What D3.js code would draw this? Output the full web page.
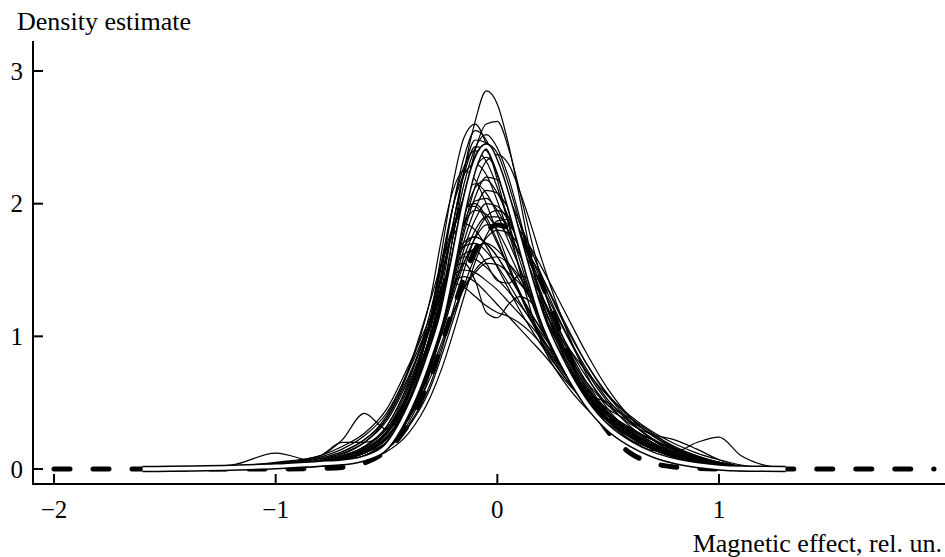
<!DOCTYPE html>
<html>
<head>
<meta charset="utf-8">
<script src="https://cdn.jsdelivr.net/npm/d3@7"></script>
<style>
  html, body { margin: 0; padding: 0; background: #fff; }
</style>
</head>
<body>
<div class="chart"></div>
<script>
// x positions where the thin curves and the white curve are sampled
const xGrid = [-1.6, -1.2, -1.0, -0.8, -0.7, -0.6, -0.5, -0.4, -0.3, -0.25, -0.2, -0.15, -0.1, -0.05,
  0, 0.05, 0.1, 0.15, 0.2, 0.3, 0.4, 0.5, 0.6, 0.7, 0.8, 0.9, 1.0, 1.1, 1.3]

// individual density estimates (thin lines)
const thinCurves = [
  [0, 0.005, 0.01, 0.02, 0.04, 0.08, 0.17, 0.4, 0.85, 1.25, 1.75, 2.25, 2.62, 2.85, 2.75, 2.45, 2.05, 1.62, 1.25, 0.78, 0.5, 0.32, 0.2, 0.12, 0.07, 0.035, 0.015, 0.005, 0],
  [0, 0.01, 0.02, 0.04, 0.07, 0.13, 0.26, 0.55, 1.15, 1.65, 2.15, 2.5, 2.6, 2.45, 2.18, 1.85, 1.5, 1.2, 0.95, 0.66, 0.46, 0.32, 0.22, 0.15, 0.09, 0.05, 0.025, 0.01, 0],
  [0, 0.005, 0.01, 0.03, 0.05, 0.08, 0.16, 0.35, 0.75, 1.1, 1.55, 2.02, 2.4, 2.6, 2.62, 2.42, 2.1, 1.75, 1.42, 0.92, 0.58, 0.37, 0.24, 0.15, 0.09, 0.05, 0.02, 0.005, 0],
  [0, 0.01, 0.015, 0.035, 0.06, 0.1, 0.2, 0.45, 0.92, 1.3, 1.75, 2.15, 2.42, 2.52, 2.42, 2.2, 1.9, 1.58, 1.28, 0.88, 0.6, 0.42, 0.3, 0.2, 0.12, 0.07, 0.035, 0.012, 0],
  [0, 0.01, 0.02, 0.045, 0.07, 0.12, 0.23, 0.5, 1.0, 1.42, 1.85, 2.22, 2.43, 2.4, 2.22, 1.96, 1.68, 1.4, 1.15, 0.78, 0.53, 0.36, 0.24, 0.15, 0.09, 0.05, 0.025, 0.008, 0],
  [0, 0.005, 0.01, 0.03, 0.05, 0.09, 0.18, 0.38, 0.78, 1.08, 1.45, 1.82, 2.13, 2.32, 2.37, 2.3, 2.1, 1.85, 1.58, 1.1, 0.72, 0.45, 0.28, 0.17, 0.1, 0.06, 0.03, 0.01, 0],
  [0, 0.01, 0.02, 0.05, 0.09, 0.15, 0.28, 0.6, 1.15, 1.58, 1.98, 2.22, 2.3, 2.22, 2.02, 1.78, 1.52, 1.28, 1.06, 0.74, 0.52, 0.36, 0.25, 0.16, 0.1, 0.06, 0.03, 0.01, 0],
  [0, 0.01, 0.02, 0.045, 0.08, 0.13, 0.24, 0.48, 0.92, 1.22, 1.58, 1.9, 2.12, 2.18, 2.08, 1.9, 1.68, 1.45, 1.22, 0.85, 0.57, 0.37, 0.24, 0.15, 0.09, 0.05, 0.025, 0.008, 0],
  [0, 0.01, 0.015, 0.035, 0.06, 0.1, 0.2, 0.42, 0.8, 1.08, 1.4, 1.72, 1.96, 2.1, 2.08, 1.96, 1.78, 1.58, 1.38, 0.98, 0.66, 0.43, 0.27, 0.17, 0.1, 0.06, 0.03, 0.01, 0],
  [0, 0.01, 0.02, 0.055, 0.1, 0.17, 0.32, 0.66, 1.2, 1.55, 1.83, 1.98, 1.98, 1.87, 1.7, 1.52, 1.34, 1.16, 1.0, 0.74, 0.54, 0.4, 0.3, 0.22, 0.14, 0.08, 0.04, 0.015, 0],
  [0, 0.01, 0.02, 0.045, 0.08, 0.14, 0.27, 0.55, 1.02, 1.32, 1.62, 1.85, 1.95, 1.92, 1.8, 1.64, 1.46, 1.28, 1.1, 0.8, 0.56, 0.38, 0.25, 0.16, 0.1, 0.06, 0.03, 0.01, 0],
  [0, 0.005, 0.015, 0.035, 0.06, 0.1, 0.2, 0.42, 0.8, 1.05, 1.33, 1.6, 1.8, 1.9, 1.9, 1.84, 1.74, 1.6, 1.45, 1.12, 0.8, 0.55, 0.36, 0.22, 0.13, 0.08, 0.04, 0.015, 0],
  [0, 0.02, 0.035, 0.08, 0.13, 0.22, 0.4, 0.76, 1.28, 1.56, 1.76, 1.85, 1.8, 1.68, 1.52, 1.36, 1.2, 1.06, 0.93, 0.7, 0.5, 0.38, 0.3, 0.22, 0.15, 0.09, 0.05, 0.02, 0],
  [0, 0.005, 0.01, 0.025, 0.045, 0.08, 0.15, 0.32, 0.62, 0.86, 1.12, 1.38, 1.6, 1.74, 1.8, 1.78, 1.68, 1.54, 1.38, 1.05, 0.74, 0.5, 0.32, 0.2, 0.12, 0.07, 0.035, 0.012, 0],
  [0, 0.015, 0.03, 0.06, 0.1, 0.17, 0.32, 0.64, 1.1, 1.36, 1.58, 1.71, 1.75, 1.7, 1.6, 1.47, 1.33, 1.18, 1.04, 0.78, 0.56, 0.38, 0.25, 0.16, 0.1, 0.06, 0.03, 0.01, 0],
  [0, 0.01, 0.02, 0.05, 0.09, 0.16, 0.3, 0.58, 1.02, 1.28, 1.5, 1.62, 1.65, 1.55, 1.42, 1.4, 1.46, 1.42, 1.3, 0.95, 0.64, 0.42, 0.27, 0.17, 0.1, 0.06, 0.03, 0.01, 0],
  [0, 0.02, 0.035, 0.08, 0.13, 0.22, 0.38, 0.7, 1.12, 1.36, 1.52, 1.6, 1.58, 1.52, 1.43, 1.34, 1.24, 1.13, 1.02, 0.78, 0.57, 0.4, 0.27, 0.17, 0.1, 0.06, 0.03, 0.01, 0],
  [0, 0.015, 0.03, 0.07, 0.12, 0.2, 0.36, 0.68, 1.12, 1.38, 1.52, 1.55, 1.42, 1.18, 1.14, 1.24, 1.3, 1.26, 1.15, 0.88, 0.62, 0.42, 0.27, 0.17, 0.1, 0.06, 0.03, 0.01, 0],
  [0, 0.02, 0.045, 0.1, 0.17, 0.27, 0.45, 0.78, 1.15, 1.33, 1.46, 1.5, 1.48, 1.42, 1.35, 1.26, 1.17, 1.08, 0.98, 0.78, 0.58, 0.42, 0.29, 0.19, 0.12, 0.07, 0.035, 0.01, 0],
  [0, 0.02, 0.05, 0.1, 0.22, 0.42, 0.3, 0.52, 0.98, 1.22, 1.4, 1.45, 1.41, 1.33, 1.24, 1.15, 1.06, 0.97, 0.88, 0.68, 0.5, 0.36, 0.24, 0.15, 0.09, 0.05, 0.025, 0.008, 0],
  [0, 0.02, 0.04, 0.09, 0.15, 0.25, 0.42, 0.74, 1.12, 1.3, 1.4, 1.37, 1.3, 1.23, 1.18, 1.15, 1.1, 1.03, 0.94, 0.74, 0.56, 0.42, 0.31, 0.22, 0.15, 0.09, 0.05, 0.015, 0],
  [0, 0.005, 0.01, 0.025, 0.05, 0.09, 0.18, 0.38, 0.76, 1.04, 1.36, 1.66, 1.88, 2.0, 1.98, 1.87, 1.7, 1.5, 1.3, 0.9, 0.58, 0.36, 0.22, 0.14, 0.13, 0.2, 0.24, 0.1, 0],
  [0, 0.03, 0.12, 0.05, 0.07, 0.12, 0.23, 0.46, 0.85, 1.1, 1.36, 1.56, 1.67, 1.7, 1.65, 1.55, 1.42, 1.28, 1.13, 0.84, 0.58, 0.38, 0.24, 0.15, 0.09, 0.05, 0.025, 0.008, 0],
  [0, 0.015, 0.03, 0.065, 0.11, 0.2, 0.38, 0.74, 1.3, 1.75, 2.1, 2.25, 2.18, 2.0, 1.78, 1.55, 1.33, 1.13, 0.96, 0.7, 0.5, 0.36, 0.26, 0.18, 0.11, 0.06, 0.03, 0.01, 0],
  [0, 0.005, 0.01, 0.02, 0.04, 0.07, 0.13, 0.27, 0.55, 0.76, 1.02, 1.3, 1.56, 1.76, 1.87, 1.88, 1.8, 1.67, 1.52, 1.2, 0.88, 0.6, 0.39, 0.25, 0.15, 0.09, 0.05, 0.015, 0],
  [0, 0.01, 0.02, 0.045, 0.08, 0.14, 0.27, 0.57, 1.12, 1.55, 1.98, 2.28, 2.4, 2.32, 2.12, 1.86, 1.58, 1.32, 1.08, 0.75, 0.5, 0.34, 0.24, 0.16, 0.1, 0.05, 0.025, 0.008, 0],
  [0, 0.01, 0.02, 0.045, 0.07, 0.12, 0.2, 0.38, 0.7, 0.93, 1.16, 1.37, 1.5, 1.58, 1.6, 1.55, 1.45, 1.32, 1.18, 0.9, 0.66, 0.48, 0.38, 0.27, 0.16, 0.09, 0.05, 0.02, 0],
  [0, 0.01, 0.02, 0.04, 0.07, 0.12, 0.24, 0.52, 1.05, 1.5, 1.98, 2.35, 2.55, 2.48, 2.25, 1.95, 1.64, 1.36, 1.12, 0.78, 0.54, 0.38, 0.27, 0.18, 0.11, 0.06, 0.03, 0.01, 0],
  [0, 0.01, 0.015, 0.035, 0.06, 0.1, 0.19, 0.42, 0.85, 1.18, 1.58, 1.98, 2.26, 2.35, 2.25, 2.05, 1.8, 1.55, 1.32, 0.92, 0.62, 0.4, 0.26, 0.16, 0.1, 0.06, 0.03, 0.01, 0],
  [0, 0.015, 0.025, 0.055, 0.09, 0.15, 0.28, 0.58, 1.1, 1.45, 1.8, 2.05, 2.15, 2.08, 1.92, 1.72, 1.52, 1.32, 1.14, 0.82, 0.57, 0.38, 0.25, 0.16, 0.1, 0.06, 0.03, 0.01, 0],
  [0, 0.01, 0.015, 0.035, 0.06, 0.1, 0.2, 0.4, 0.78, 1.02, 1.3, 1.55, 1.74, 1.84, 1.84, 1.76, 1.62, 1.46, 1.3, 0.98, 0.7, 0.48, 0.34, 0.26, 0.22, 0.15, 0.07, 0.02, 0],
  [0, 0.01, 0.02, 0.045, 0.075, 0.13, 0.24, 0.5, 0.95, 1.26, 1.58, 1.86, 2.02, 2.04, 1.95, 1.8, 1.62, 1.43, 1.25, 0.9, 0.62, 0.42, 0.28, 0.18, 0.11, 0.06, 0.03, 0.01, 0],
  [0, 0.02, 0.04, 0.1, 0.2, 0.2, 0.3, 0.62, 1.08, 1.36, 1.58, 1.68, 1.7, 1.64, 1.53, 1.4, 1.26, 1.12, 0.99, 0.74, 0.53, 0.37, 0.25, 0.16, 0.1, 0.06, 0.03, 0.01, 0],
  [0, 0.005, 0.01, 0.03, 0.05, 0.09, 0.18, 0.4, 0.85, 1.22, 1.66, 2.07, 2.36, 2.45, 2.38, 2.15, 1.86, 1.56, 1.28, 0.86, 0.58, 0.4, 0.28, 0.19, 0.12, 0.07, 0.035, 0.012, 0],
  [0, 0.005, 0.01, 0.025, 0.045, 0.08, 0.15, 0.33, 0.65, 0.9, 1.2, 1.5, 1.75, 1.9, 1.95, 1.9, 1.78, 1.6, 1.42, 1.06, 0.76, 0.52, 0.35, 0.23, 0.14, 0.08, 0.04, 0.015, 0],
  [0, 0.005, 0.01, 0.03, 0.05, 0.09, 0.18, 0.38, 0.78, 1.06, 1.42, 1.78, 2.05, 2.2, 2.18, 2.05, 1.86, 1.66, 1.46, 1.1, 0.8, 0.56, 0.38, 0.25, 0.16, 0.1, 0.05, 0.015, 0],
  [0, 0.01, 0.02, 0.05, 0.09, 0.15, 0.28, 0.56, 1.0, 1.28, 1.52, 1.68, 1.75, 1.7, 1.6, 1.46, 1.32, 1.18, 1.05, 0.8, 0.6, 0.45, 0.36, 0.26, 0.17, 0.1, 0.05, 0.015, 0],
  [0, 0.01, 0.015, 0.035, 0.06, 0.1, 0.2, 0.46, 0.95, 1.36, 1.84, 2.25, 2.48, 2.46, 2.28, 2.0, 1.72, 1.45, 1.2, 0.82, 0.55, 0.37, 0.25, 0.16, 0.1, 0.06, 0.03, 0.01, 0],
  [0, 0.01, 0.02, 0.045, 0.075, 0.12, 0.22, 0.42, 0.74, 0.96, 1.18, 1.36, 1.48, 1.55, 1.54, 1.48, 1.4, 1.3, 1.2, 0.96, 0.74, 0.55, 0.4, 0.28, 0.19, 0.12, 0.07, 0.03, 0],
  [0, 0.01, 0.02, 0.05, 0.09, 0.15, 0.28, 0.58, 1.12, 1.48, 1.8, 1.97, 2.0, 1.9, 1.72, 1.52, 1.32, 1.14, 0.98, 0.72, 0.56, 0.5, 0.36, 0.22, 0.12, 0.07, 0.035, 0.01, 0]
]

// thick white curve
const whiteCurve = [0, 0.01, 0.02, 0.04, 0.05, 0.08, 0.17, 0.45, 0.88, 1.15, 1.55, 1.98, 2.3, 2.43, 2.28, 2.02, 1.72, 1.42, 1.15, 0.78, 0.5, 0.31, 0.19, 0.11, 0.06, 0.03, 0.012, 0.004, 0]

// thick dashed curve
const dashX = [-2, -1.0, -0.8, -0.7, -0.6, -0.5, -0.4, -0.3, -0.2, -0.1, 0, 0.1, 0.2, 0.3, 0.4, 0.5, 0.6, 0.7, 0.8, 0.9, 1.05, 1.97]
const dashY = [0, 0, 0.004, 0.012, 0.045, 0.14, 0.34, 0.7, 1.2, 1.65, 1.84, 1.75, 1.4, 0.96, 0.56, 0.28, 0.12, 0.045, 0.015, 0.004, 0, 0]

const xTicks = [-2, -1, 0, 1]
const yTicks = [0, 1, 2, 3]

const width = 945
const height = 557
const fontFamily = '"Liberation Serif", "Times New Roman", Times, "DejaVu Serif", serif'

const svg = d3.select('.chart')
  .append('svg')
  .attr('width', width)
  .attr('height', height)
  .style('font-family', fontFamily)

const x = d3.scaleLinear().domain([-2, 1]).range([54, 719])
const y = d3.scaleLinear().domain([0, 3]).range([469, 71])

const axisX = 33   // where the y axis sits
const axisY = 484  // where the x axis sits

const line = d3.line()
  .curve(d3.curveMonotoneX)
  .x(d => x(d[0]))
  .y(d => y(d[1]))

// thin lines
svg.append('g')
  .selectAll('path')
  .data(thinCurves)
  .enter()
  .append('path')
  .attr('d', d => line(d.map((v, i) => [xGrid[i], v])))
  .attr('fill', 'none')
  .attr('stroke', '#000')
  .attr('stroke-width', 1.2)

// dashed curve
svg.append('path')
  .attr('d', line(dashX.map((v, i) => [v, dashY[i]])))
  .attr('fill', 'none')
  .attr('stroke', '#000')
  .attr('stroke-width', 5)
  .attr('stroke-linecap', 'round')
  .attr('stroke-dasharray', '16,23')

// white curve with black edges
const whitePts = whiteCurve.map((v, i) => [xGrid[i], v])
svg.append('path')
  .attr('d', line(whitePts))
  .attr('fill', 'none')
  .attr('stroke', '#000')
  .attr('stroke-width', 6.5)
svg.append('path')
  .attr('d', line(whitePts))
  .attr('fill', 'none')
  .attr('stroke', '#fff')
  .attr('stroke-width', 3.5)

// axes lines
svg.append('line')
  .attr('x1', axisX).attr('x2', axisX)
  .attr('y1', 41).attr('y2', axisY + 1)
  .attr('stroke', '#000').attr('stroke-width', 2)
svg.append('line')
  .attr('x1', axisX - 1).attr('x2', width)
  .attr('y1', axisY).attr('y2', axisY)
  .attr('stroke', '#000').attr('stroke-width', 2)

const fmt = d => (d < 0 ? '\u2212' + Math.abs(d) : String(d))

// x ticks
const xt = svg.append('g').selectAll('g')
  .data(xTicks)
  .enter()
  .append('g')
  .attr('transform', d => `translate(${x(d)},${axisY})`)
xt.append('line').attr('y2', -10).attr('stroke', '#000').attr('stroke-width', 2)
xt.append('text')
  .attr('y', 34)
  .attr('text-anchor', 'middle')
  .attr('font-family', fontFamily)
  .attr('font-size', 25)
  .text(fmt)

// y ticks
const yt = svg.append('g').selectAll('g')
  .data(yTicks)
  .enter()
  .append('g')
  .attr('transform', d => `translate(${axisX},${y(d)})`)
yt.append('line').attr('x2', 10).attr('stroke', '#000').attr('stroke-width', 2)
yt.append('text')
  .attr('x', -10)
  .attr('dy', '0.34em')
  .attr('text-anchor', 'end')
  .attr('font-family', fontFamily)
  .attr('font-size', 25)
  .text(fmt)

// axis titles
svg.append('text')
  .attr('x', 17)
  .attr('y', 30)
  .attr('font-family', fontFamily)
  .attr('font-size', 26)
  .text('Density estimate')
svg.append('text')
  .attr('x', 942)
  .attr('y', 552)
  .attr('text-anchor', 'end')
  .attr('font-family', fontFamily)
  .attr('font-size', 26)
  .text('Magnetic effect, rel. un.')
</script>
</body>
</html>
